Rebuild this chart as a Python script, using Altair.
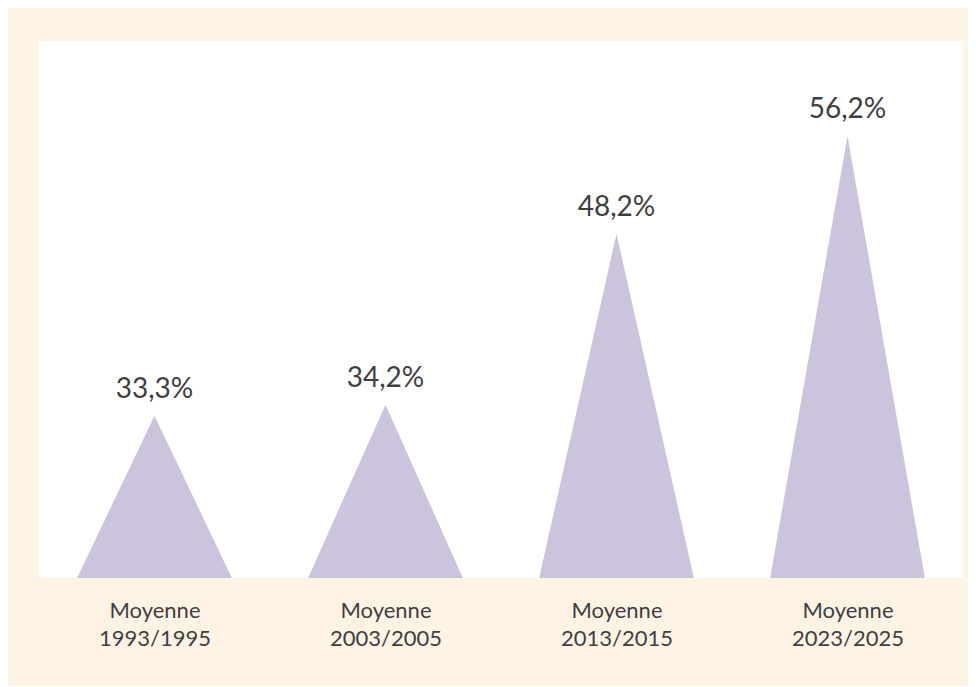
import altair as alt
import pandas as pd

# Data
periods = ["1993/1995", "2003/2005", "2013/2015", "2023/2025"]
prefix = "Moyenne"
values = [33.3, 34.2, 48.2, 56.2]

y_floor = 20
y_ceiling = 64
half_width = 0.335

rows = []
for i, (p, v) in enumerate(zip(periods, values)):
    rows.append({"cat": p, "x": i - half_width, "y": y_floor, "base": y_floor})
    rows.append({"cat": p, "x": i, "y": v, "base": y_floor})
    rows.append({"cat": p, "x": i + half_width, "y": y_floor, "base": y_floor})
tri = pd.DataFrame(rows)

lab = pd.DataFrame({
    "x": list(range(len(values))),
    "y": values,
    "txt": [f"{v:.1f}".replace(".", ",") + "%" for v in values],
})

label_expr = "['" + prefix + "', [" + ",".join(f"'{p}'" for p in periods) + "][datum.value]]"

xscale = alt.Scale(domain=[-0.5, len(values) - 0.5], nice=False, zero=False)
yscale = alt.Scale(domain=[y_floor, y_ceiling], nice=False, zero=False)

area = alt.Chart(tri).mark_area(color="#CCC4DD", opacity=1, orient="vertical").encode(
    x=alt.X("x:Q", scale=xscale, axis=alt.Axis(
        values=list(range(len(values))), labelExpr=label_expr, ticks=False, domain=False,
        grid=False, title=None, labelFont="Lato", labelFontSize=22, labelColor="#3f3f3f",
        labelPadding=22, labelLineHeight=28, labelAngle=0)),
    y=alt.Y("y:Q", scale=yscale, stack=None, axis=None),
    y2=alt.Y2("base:Q"),
    detail="cat:N",
)

text = alt.Chart(lab).mark_text(
    font="Lato", fontSize=28, color="#3f3f3f", dy=-18, baseline="alphabetic"
).encode(
    x=alt.X("x:Q", scale=xscale),
    y=alt.Y("y:Q", scale=yscale),
    text="txt:N",
)

chart = (area + text).properties(
    width=924, height=537,
    autosize=alt.AutoSizeParams(type="none"),
    padding={"left": 31, "top": 33, "right": 5, "bottom": 108},
    background="#FFF3E6",
).configure_view(fill="white", stroke=None)

chart.save("out.html", embed_options={"renderer": "svg", "actions": False})
